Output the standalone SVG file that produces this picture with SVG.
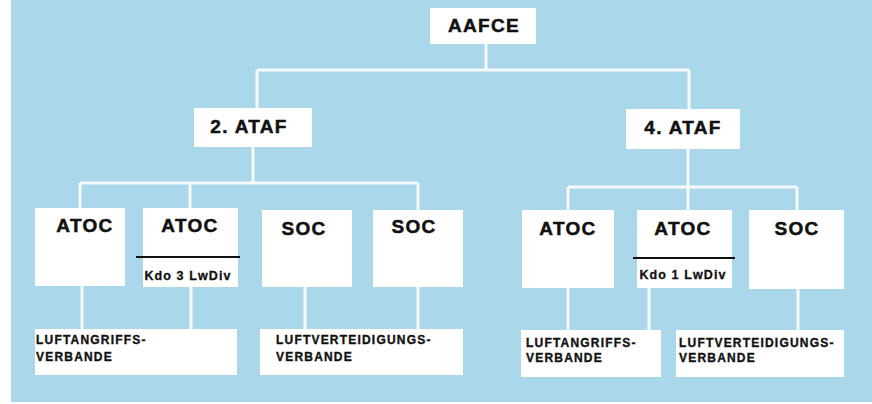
<svg xmlns="http://www.w3.org/2000/svg" width="872" height="404" viewBox="0 0 872 404">
<style>
.box{fill:#ffffff}
.conn{stroke:#f7fafa;stroke-width:3;fill:none}
.div{stroke:#111111;stroke-width:2}
.big{font-family:"Liberation Sans",Arial,sans-serif;font-weight:bold;font-size:19px;letter-spacing:1.3px;fill:#111111;stroke:#111111;stroke-width:0.5px;text-anchor:middle}
.mid{font-family:"Liberation Sans",Arial,sans-serif;font-weight:bold;font-size:12.5px;letter-spacing:1.1px;fill:#111111;stroke:#111111;stroke-width:0.3px;text-anchor:middle}
.small{font-family:"Liberation Sans",Arial,sans-serif;font-weight:bold;font-size:12px;letter-spacing:1.2px;fill:#111111;stroke:#111111;stroke-width:0.35px}
</style>
<rect x="0" y="0" width="872" height="404" fill="#ffffff"/>
<rect x="11" y="0" width="861" height="402" fill="#aad7ea"/>
<g id="connectors">
<path class="conn" d="M486 44V70M257 70H689M257 70V108M689 70V109"/>
<path class="conn" d="M253 147V183M80 183H418M80 183V208M190 183V208M418 183V210"/>
<path class="conn" d="M688 149V210M568 187H797M568 187V210M797 187V210"/>
<path class="conn" d="M82 286V329M191 287V329M305 287V329M418 287V329"/>
<path class="conn" d="M568 288V330M649 288V330M798 289V330"/>
</g>
<g id="aafce"><rect class="box" x="430" y="8" width="106" height="36"/><text class="big" x="484" y="32">AAFCE</text></g>
<g id="ataf2"><rect class="box" x="194" y="108" width="118" height="39"/><text class="big" x="249" y="133">2. ATAF</text></g>
<g id="ataf4"><rect class="box" x="626" y="109" width="114" height="40"/><text class="big" x="683" y="134">4. ATAF</text></g>
<g id="atoc1"><rect class="box" x="35" y="208" width="90" height="78"/><text class="big" x="85" y="232">ATOC</text></g>
<g id="atoc2"><rect class="box" x="143" y="208" width="95" height="79"/><text class="big" x="190" y="232">ATOC</text><line class="div" x1="136" y1="257" x2="240" y2="257"/><text class="mid" x="188" y="280">Kdo 3 LwDiv</text></g>
<g id="soc1"><rect class="box" x="262" y="210" width="90" height="77"/><text class="big" x="304" y="235">SOC</text></g>
<g id="soc2"><rect class="box" x="373" y="210" width="90" height="77"/><text class="big" x="414" y="233">SOC</text></g>
<g id="atoc3"><rect class="box" x="522" y="210" width="92" height="78"/><text class="big" x="568" y="235">ATOC</text></g>
<g id="atoc4"><rect class="box" x="637" y="210" width="95" height="78"/><text class="big" x="683" y="235">ATOC</text><line class="div" x1="633" y1="258" x2="735" y2="258"/><text class="mid" x="683" y="279">Kdo 1 LwDiv</text></g>
<g id="soc3"><rect class="box" x="749" y="210" width="95" height="79"/><text class="big" x="797" y="235">SOC</text></g>
<g id="luftangriff1"><rect class="box" x="35" y="329" width="202" height="46"/><text class="small" x="36" y="344">LUFTANGRIFFS-</text><text class="small" x="36" y="361">VERBANDE</text></g>
<g id="luftvert1"><rect class="box" x="260" y="329" width="203" height="46"/><text class="small" x="276" y="344">LUFTVERTEIDIGUNGS-</text><text class="small" x="276" y="361">VERBANDE</text></g>
<g id="luftangriff2"><rect class="box" x="521" y="330" width="140" height="47"/><text class="small" x="526" y="347">LUFTANGRIFFS-</text><text class="small" x="526" y="362">VERBANDE</text></g>
<g id="luftvert2"><rect class="box" x="676" y="330" width="168" height="47"/><text class="small" x="679" y="347">LUFTVERTEIDIGUNGS-</text><text class="small" x="679" y="362">VERBANDE</text></g>
</svg>
